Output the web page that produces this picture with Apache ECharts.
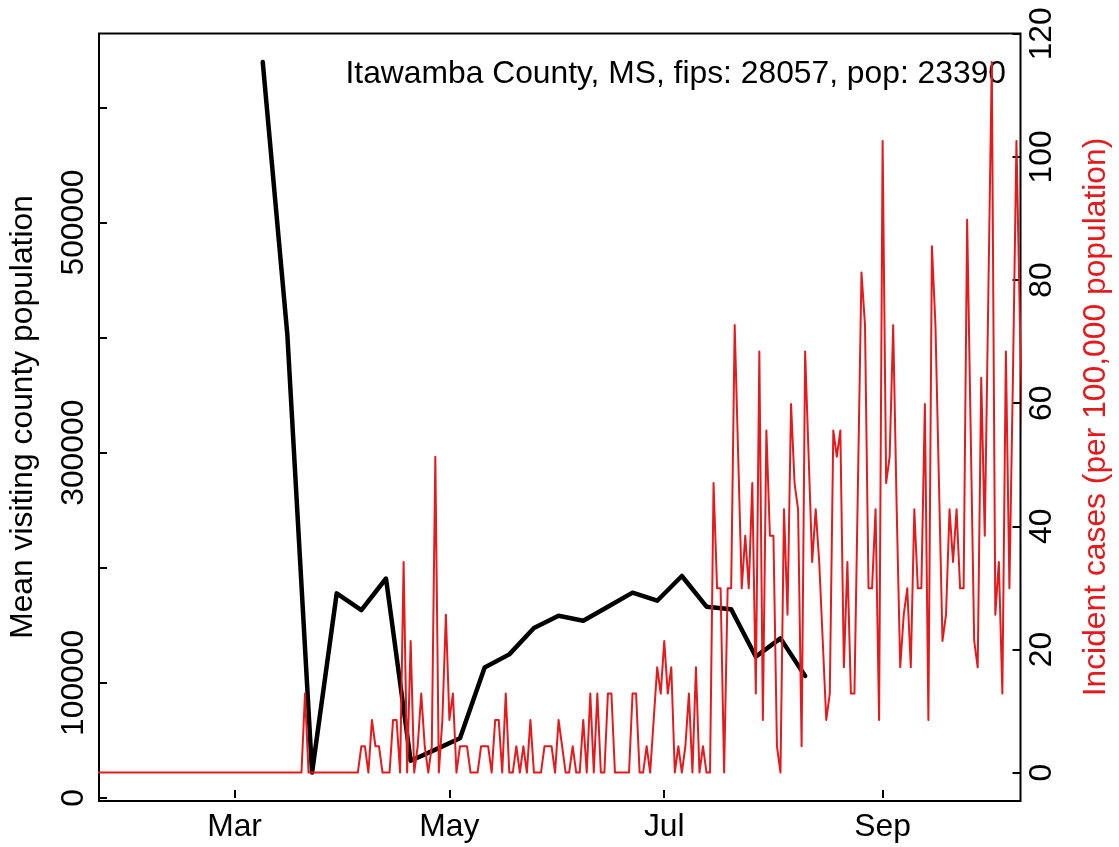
<!DOCTYPE html>
<html>
<head>
<meta charset="utf-8">
<script src="https://cdn.jsdelivr.net/npm/echarts@6.0.0/dist/echarts.min.js"></script>
<style>
html, body { margin: 0; padding: 0; background: #fff; }
#chart { width: 1119px; height: 847px; }
</style>
</head>
<body>
<div id="chart"></div>
<script>
// county info
var countyTitle = 'Itawamba County, MS, fips: 28057, pop: 23390';
var population = 23390;

// daily incident case counts, first value is Jan 22 2020
var casesJan = [0, 0, 0, 0, 0, 0, 0, 0, 0, 0];
var casesFeb = [0, 0, 0, 0, 0, 0, 0, 0, 0, 0, 0, 0, 0, 0, 0, 0, 0, 0, 0, 0, 0, 0, 0, 0, 0, 0, 0, 0, 0];
var casesMar = [0, 0, 0, 0, 0, 0, 0, 0, 0, 0, 0, 0, 0, 0, 0, 0, 0, 0, 0, 0, 3, 0, 0, 0, 0, 0, 0, 0, 0, 0, 0];
var casesApr = [0, 0, 0, 0, 0, 1, 1, 0, 2, 1, 1, 0, 0, 0, 2, 2, 0, 8, 0, 5, 0, 1, 3, 1, 0, 1, 12, 0, 2, 6];
var casesMay = [2, 3, 0, 1, 1, 1, 0, 0, 0, 1, 1, 1, 0, 2, 2, 0, 3, 0, 0, 1, 0, 1, 0, 2, 0, 0, 0, 1, 1, 1, 0];
var casesJun = [2, 1, 0, 0, 1, 0, 0, 2, 0, 3, 0, 3, 0, 0, 3, 3, 0, 0, 0, 0, 0, 3, 3, 0, 0, 1, 0, 2, 4, 3];
var casesJul = [5, 3, 4, 0, 1, 0, 1, 3, 0, 4, 0, 1, 0, 0, 11, 7, 7, 0, 7, 7, 17, 12, 7, 9, 7, 11, 3, 16, 2, 13, 9];
var casesAug = [9, 1, 0, 10, 6, 14, 11, 10, 1, 16, 12, 8, 10, 8, 5, 2, 3, 13, 12, 13, 4, 8, 3, 3, 11, 19, 17, 7, 7, 10, 2];
var casesSep = [24, 11, 12, 17, 10, 4, 6, 7, 4, 10, 7, 7, 14, 2, 20, 17, 11, 5, 6, 10, 8, 10, 7, 7, 21, 13, 5, 4, 15, 9];
var casesOct = [18, 27, 6, 8, 3, 16, 7, 15, 24, 17, 12];

// weekly mean visiting county population, first value is Mar 9 2020
var visitors = [639500, 402000, 22100, 177800, 163300, 190700, 32400, 42000, 51900, 113300, 124800, 147700,
    158400, 154000, 166200, 178400, 171400, 192900, 166200, 164000, 122800, 138700, 106000];

// axis ticks
var leftTicks = [0, 100000, 200000, 300000, 400000, 500000, 600000];
var leftLabels = [0, 100000, 300000, 500000];
var rightTicks = [0, 20, 40, 60, 80, 100, 120];
var monthTicks = ['2020-03-01', '2020-05-01', '2020-07-01', '2020-09-01'];
var monthNames = ['Jan', 'Feb', 'Mar', 'Apr', 'May', 'Jun', 'Jul', 'Aug', 'Sep', 'Oct', 'Nov', 'Dec'];

var FONT = '"Liberation Sans", Arial, Helvetica, sans-serif';
var RED = '#e41a1c';
var FS = 31.8;

function day(y, m, d) {
    return new Date(y, m, d).getTime();
}

function extend(a, b) {
    var o = {};
    for (var k in a) o[k] = a[k];
    for (var k2 in b) o[k2] = b[k2];
    return o;
}

// build [time, value] pairs
var dailyCases = [].concat(casesJan, casesFeb, casesMar, casesApr, casesMay, casesJun, casesJul, casesAug, casesSep, casesOct);
var incidentData = [];
for (var i = 0; i < dailyCases.length; i++) {
    incidentData.push([day(2020, 0, 22 + i), dailyCases[i] * 100000 / population]);
}
var visitorData = [];
for (var j = 0; j < visitors.length; j++) {
    visitorData.push([day(2020, 2, 9 + 7 * j), visitors[j]]);
}
var monthTickValues = monthTicks.map(function(s) {
    var p = s.split('-');
    return day(+p[0], +p[1] - 1, +p[2]);
});

var tickStyle = { inside: true, length: 8, lineStyle: { color: '#000', width: 2 } };

var option = {
    animation: false,
    backgroundColor: '#fff',
    grid: {
        show: true,
        left: 99,
        right: 98.5,
        top: 33.5,
        bottom: 46,
        borderColor: '#000',
        borderWidth: 2,
        backgroundColor: 'transparent'
    },
    xAxis: {
        // timestamps on a plain value axis
        type: 'value',
        min: new Date(2020, 0, 22, 12, 14).getTime(),
        max: new Date(2020, 9, 10, 3, 36).getTime(),
        axisLine: { show: false },
        splitLine: { show: false },
        axisTick: extend(tickStyle, { customValues: monthTickValues }),
        axisLabel: {
            customValues: monthTickValues,
            formatter: function(v) { return monthNames[new Date(v).getMonth()]; },
            fontFamily: FONT,
            fontSize: FS,
            lineHeight: 32,
            color: '#000',
            margin: 10
        }
    },
    yAxis: [{
        type: 'value',
        min: -2596,
        max: 664196,
        axisLine: { show: false },
        splitLine: { show: false },
        axisTick: extend(tickStyle, { customValues: leftTicks }),
        axisLabel: {
            customValues: leftLabels,
            formatter: function(v) { return String(v); },
            rotate: 90,
            fontFamily: FONT,
            fontSize: FS,
            lineHeight: 32,
            color: '#000',
            margin: 9
        }
    }, {
        type: 'value',
        position: 'right',
        min: -4.617,
        max: 120.05,
        axisLine: { show: false },
        splitLine: { show: false },
        axisTick: extend(tickStyle, { customValues: rightTicks }),
        axisLabel: {
            customValues: rightTicks,
            formatter: function(v) { return String(v); },
            rotate: 90,
            fontFamily: FONT,
            fontSize: FS,
            lineHeight: 32,
            color: '#000',
            margin: 6
        }
    }],
    graphic: [{
        type: 'text',
        x: 1006,
        y: 74,
        style: { text: countyTitle, font: FS + 'px ' + FONT, fill: '#000', align: 'right', verticalAlign: 'middle' }
    }, {
        type: 'text',
        x: 23.5,
        y: 417,
        rotation: Math.PI / 2,
        style: { text: 'Mean visiting county population', font: FS + 'px ' + FONT, fill: '#000', align: 'center', verticalAlign: 'middle' }
    }, {
        type: 'text',
        x: 1096.5,
        y: 417,
        rotation: Math.PI / 2,
        style: { text: 'Incident cases (per 100,000 population)', font: FS + 'px ' + FONT, fill: RED, align: 'center', verticalAlign: 'middle' }
    }],
    series: [{
        name: 'visitors',
        type: 'line',
        yAxisIndex: 0,
        data: visitorData,
        showSymbol: false,
        z: 2,
        lineStyle: { color: '#000', width: 4.5, cap: 'round', join: 'round' }
    }, {
        name: 'incident',
        type: 'line',
        yAxisIndex: 1,
        data: incidentData,
        showSymbol: false,
        z: 3,
        lineStyle: { color: RED, width: 2, join: 'round' }
    }]
};

var chart = echarts.init(document.getElementById('chart'), null, { renderer: 'canvas' });
chart.setOption(option);
</script>
</body>
</html>
